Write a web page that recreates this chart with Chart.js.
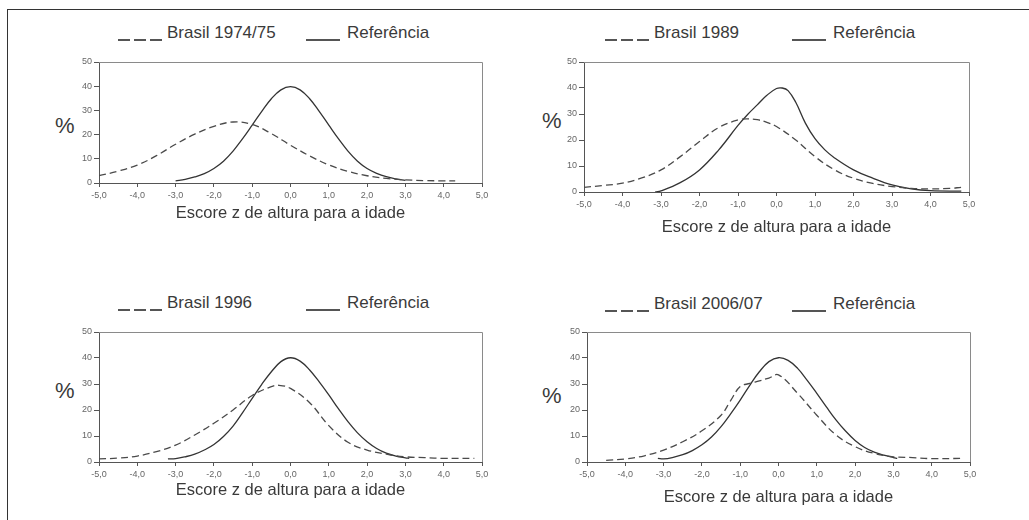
<!DOCTYPE html>
<html lang="pt-BR">
<head>
<meta charset="utf-8">
<script src="https://cdn.jsdelivr.net/npm/chart.js@4/dist/chart.umd.min.js"></script>
<style>
  body { margin: 0; background: #fff; font-family: "Liberation Sans", Arial, sans-serif; color: #3a3a3a; }
  #pagina { position: relative; width: 1029px; height: 520px; overflow: hidden; }
  #moldura { position: absolute; left: 7px; top: 9px; width: 1040px; height: 530px; border-top: 1.5px solid #333; border-left: 1.5px solid #333; }
  canvas { position: absolute; }
  .leg { position: absolute; font-size: 17px; line-height: 20px; white-space: nowrap; }
  .traco { position: absolute; height: 1.5px; background: #555; }
  .pct { position: absolute; font-size: 22px; line-height: 22px; }
</style>
</head>
<body>
<div id="pagina"><div id="moldura"></div></div>
<script>
// Brasil 1974/75
const z1Brasil = [-5, -4.5, -4, -3.5, -3, -2.5, -2, -1.5, -1, -0.5, 0, 0.5, 1, 1.5, 2, 2.5, 3, 3.5, 4, 4.3];
const v1Brasil = [3, 4.9, 7.4, 11.3, 16, 20.2, 23.4, 25.2, 24.2, 20.4, 15.6, 11.2, 7.5, 4.8, 3, 1.9, 1.3, 1, 0.9, 0.9];
const z1Ref = [-3, -2.75, -2.5, -2.25, -2, -1.75, -1.5, -1.25, -1, -0.75, -0.5, -0.25, 0, 0.25, 0.5, 0.75, 1, 1.25, 1.5, 1.75, 2, 2.25, 2.5, 2.75, 3];
const v1Ref = [0.9, 1.5, 2.5, 3.9, 6, 9, 13.2, 18.3, 23.9, 29.6, 34.8, 38.5, 39.8, 38.5, 34.8, 29.6, 23.9, 18.3, 13.2, 9, 6, 4, 2.6, 1.7, 1.1];

// Brasil 1989
const z2Brasil = [-5, -4.5, -4, -3.5, -3, -2.5, -2, -1.5, -1, -0.75, -0.5, -0.25, 0, 0.5, 1, 1.5, 2, 2.5, 3, 3.5, 4, 4.5, 4.8];
const v2Brasil = [1.8, 2.5, 3.4, 5.4, 8.5, 13.6, 19.4, 24.8, 27.7, 28.1, 27.8, 26.8, 25.2, 20, 13.6, 8.6, 5.3, 3.3, 2.1, 1.4, 1.2, 1.4, 1.8];
const z2Ref = [-3.15, -3, -2.5, -2, -1.5, -1, -0.75, -0.5, -0.25, 0, 0.15, 0.3, 0.5, 0.75, 1, 1.25, 1.5, 2, 2.5, 3, 3.5, 4, 4.8];
const v2Ref = [0, 0.4, 3.6, 8.5, 16.2, 25.6, 29.8, 33.5, 37.2, 39.8, 40, 39, 34.5, 26.5, 20.5, 16.3, 13.2, 8.5, 5.3, 2.7, 1.2, 0.5, 0.3];

// Brasil 1996
const z3Brasil = [-5, -4.5, -4, -3.5, -3, -2.5, -2, -1.5, -1, -0.5, -0.3, 0, 0.5, 1, 1.5, 2, 2.5, 3, 3.5, 4, 4.8];
const v3Brasil = [1.2, 1.5, 2.3, 4, 6.5, 10.4, 14.9, 20, 25.6, 29, 29.5, 28.3, 22.8, 14, 7.6, 4.6, 3, 2, 1.7, 1.4, 1.4];
const z3Ref = [-3.2, -3, -2.75, -2.5, -2.25, -2, -1.75, -1.5, -1.25, -1, -0.75, -0.5, -0.25, 0, 0.25, 0.5, 0.75, 1, 1.25, 1.5, 1.75, 2, 2.25, 2.5, 2.75, 3, 3.1];
const v3Ref = [1.2, 1.3, 2, 3, 4.6, 6.7, 9.8, 13.8, 19, 24.5, 29.9, 34.7, 38.6, 40.1, 38.8, 35.4, 30.8, 25.8, 20.5, 15.5, 11.2, 7.8, 5.2, 3.4, 2.3, 1.6, 1.4];

// Brasil 2006/07
const z4Brasil = [-4.5, -4, -3.5, -3, -2.5, -2, -1.5, -1.25, -1, -0.75, -0.5, -0.25, 0, 0.5, 1, 1.5, 2, 2.5, 3, 3.5, 4, 4.8];
const v4Brasil = [0.6, 1.2, 2.4, 4.6, 7.8, 12, 18, 23.6, 29, 30.2, 31.2, 32.3, 33.5, 26.4, 18, 10.4, 5.9, 3.3, 2, 1.7, 1.3, 1.4];
const z4Ref = [-3.15, -3, -2.75, -2.5, -2.25, -2, -1.75, -1.5, -1.25, -1, -0.75, -0.5, -0.25, 0, 0.25, 0.5, 0.75, 1, 1.25, 1.5, 1.75, 2, 2.25, 2.5, 2.75, 3, 3.1];
const v4Ref = [1.4, 1.2, 1.8, 2.8, 4.4, 6.6, 9.6, 13.6, 18.5, 23.8, 29.5, 34.7, 38.6, 40.1, 39.1, 36, 31.4, 26.4, 21.2, 16.2, 11.9, 8.3, 5.6, 3.8, 2.6, 1.7, 1.4];

const rotulos = ['Brasil 1974/75', 'Brasil 1989', 'Brasil 1996', 'Brasil 2006/07'];
const tituloX = 'Escore z de altura para a idade';

// posições dos painéis na página
const paineis = [
  { left: 59,  top: 52,  w: 438, h: 171, eixoX: 40, lx: 118, sx: 306, ly: 39,  px: 55,  py: 115, bz: z1Brasil, bv: v1Brasil, rz: z1Ref, rv: v1Ref },
  { left: 544, top: 52,  w: 440, h: 185, eixoX: 45, lx: 605, sx: 792, ly: 39,  px: 542, py: 110, bz: z2Brasil, bv: v2Brasil, rz: z2Ref, rv: v2Ref },
  { left: 59,  top: 322, w: 438, h: 178, eixoX: 38, lx: 118, sx: 306, ly: 309, px: 55,  py: 380, bz: z3Brasil, bv: v3Brasil, rz: z3Ref, rv: v3Ref },
  { left: 547, top: 322, w: 438, h: 185, eixoX: 45, lx: 605, sx: 792, ly: 310, px: 542, py: 385, bz: z4Brasil, bv: v4Brasil, rz: z4Ref, rv: v4Ref }
];

const pagina = document.getElementById('pagina');
const fonteTick = { family: '"Liberation Sans Narrow", "Liberation Sans", Arial, sans-serif', size: 9 };

function el(cls, x, y, w, txt) {
  const d = document.createElement('div');
  d.className = cls;
  d.style.left = x + 'px';
  d.style.top = y + 'px';
  if (w) d.style.width = w + 'px';
  if (txt) d.textContent = txt;
  pagina.appendChild(d);
}

function pontos(zs, vs) {
  return zs.map((z, i) => ({ x: z, y: vs[i] }));
}

// moldura cinza no topo e à direita da área do gráfico
const caixa = {
  id: 'caixa',
  beforeDatasetsDraw(chart) {
    const { ctx, chartArea: a } = chart;
    ctx.save();
    ctx.strokeStyle = '#8a8a8a';
    ctx.lineWidth = 1;
    ctx.beginPath();
    ctx.moveTo(a.left, Math.round(a.top) + 0.5);
    ctx.lineTo(Math.round(a.right) + 0.5, Math.round(a.top) + 0.5);
    ctx.lineTo(Math.round(a.right) + 0.5, a.bottom);
    ctx.stroke();
    ctx.restore();
  }
};

paineis.forEach((p, i) => {
  // legenda e rótulo "%"
  for (let k = 0; k < 3; k++) el('traco', p.lx + k * 16, p.ly, 12);
  el('leg', p.lx + 49, p.ly - 15.6, 0, rotulos[i]);
  el('traco', p.sx, p.ly, 34);
  el('leg', p.sx + 41, p.ly - 15.6, 0, 'Referência');
  el('pct', p.px, p.py, 0, '%');

  const canvas = document.createElement('canvas');
  canvas.width = p.w;
  canvas.height = p.h;
  canvas.style.left = p.left + 'px';
  canvas.style.top = p.top + 'px';
  pagina.appendChild(canvas);

  new Chart(canvas, {
    type: 'line',
    data: {
      datasets: [
        {
          label: rotulos[i],
          data: pontos(p.bz, p.bv),
          borderColor: '#4a4a4a',
          borderWidth: 1.3,
          borderDash: [7, 4],
          pointRadius: 0,
          tension: 0.4
        },
        {
          label: 'Referência',
          data: pontos(p.rz, p.rv),
          borderColor: '#333',
          borderWidth: 1.3,
          pointRadius: 0,
          tension: 0.4
        }
      ]
    },
    options: {
      responsive: false,
      animation: false,
      events: [],
      layout: { padding: { left: 0, top: 10, right: 15, bottom: 0 } },
      plugins: { legend: { display: false }, tooltip: { enabled: false } },
      scales: {
        x: {
          type: 'linear',
          min: -5,
          max: 5,
          afterFit: s => { s.height = p.eixoX; },
          ticks: {
            stepSize: 1,
            autoSkip: false,
            maxRotation: 0,
            padding: 3,
            color: '#666',
            font: fonteTick,
            callback: v => v.toFixed(1).replace('.', ',')
          },
          grid: { drawOnChartArea: false, tickLength: 4, color: '#555' },
          border: { color: '#555', width: 1 },
          title: {
            display: true,
            text: tituloX,
            color: '#3a3a3a',
            padding: 0,
            font: { family: '"Liberation Sans", Arial, sans-serif', size: 16.5 }
          }
        },
        y: {
          min: 0,
          max: 50,
          afterFit: s => { s.width = 40; },
          ticks: { stepSize: 10, padding: 2, color: '#666', font: fonteTick },
          grid: { drawOnChartArea: false, tickLength: 5, color: '#555' },
          border: { color: '#555', width: 1 }
        }
      }
    },
    plugins: [caixa]
  });
});
</script>
</body>
</html>
